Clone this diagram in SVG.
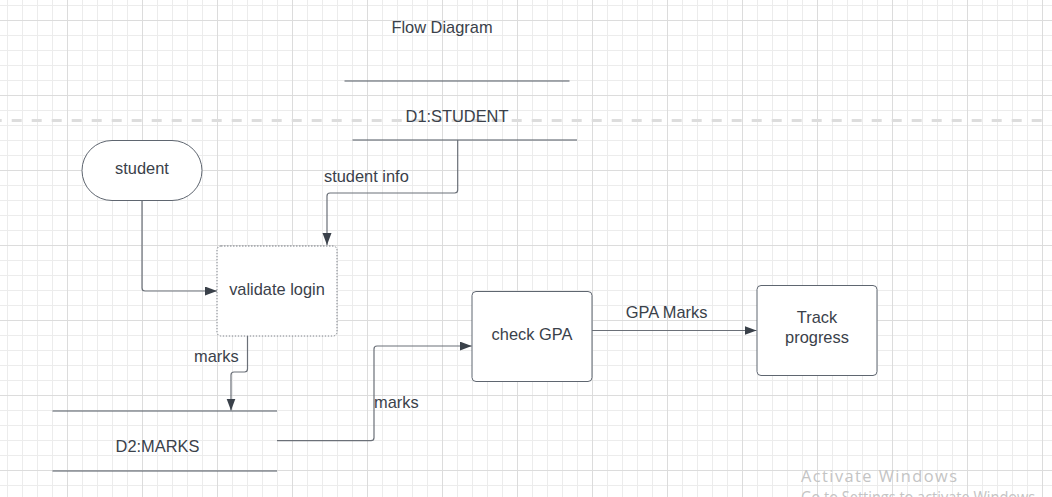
<svg xmlns="http://www.w3.org/2000/svg" width="1052" height="497" viewBox="0 0 1052 497">
<defs>
<pattern id="gMinor" patternUnits="userSpaceOnUse" x="7" y="5" width="15" height="15">
<path d="M0 0.5H15M0.5 0V15" stroke="#ececec" stroke-width="1" fill="none"/>
</pattern>
<pattern id="gMajor" patternUnits="userSpaceOnUse" x="67" y="20" width="75" height="75">
<path d="M0 0.5H75M0.5 0V75" stroke="#dcdcdc" stroke-width="1" fill="none"/>
</pattern>
<marker id="arr" markerUnits="userSpaceOnUse" markerWidth="13" markerHeight="10" refX="12" refY="4.5" orient="auto">
<path d="M0 0L12 4.5L0 9z" fill="#3a414a"/>
</marker>
<style>
text{font-family:"Liberation Sans",Arial,sans-serif;font-size:16.4px;fill:#3a414a}
.c{text-anchor:middle}
.node{fill:#ffffff;stroke:#5f6670;stroke-width:1}
.store{stroke:#4f5661;stroke-width:1.2;fill:none}
.conn{fill:none;stroke:#6b7078;stroke-width:1.2}
.wm{font-family:"Open Sans","Noto Sans",sans-serif;fill:#c4c4c4}
</style>
</defs>
<rect width="1052" height="497" fill="#ffffff"/>
<rect width="1052" height="497" fill="url(#gMinor)"/>
<rect width="1052" height="497" fill="url(#gMajor)"/>
<line x1="0" y1="120.5" x2="1042" y2="120.5" stroke="#dddddd" stroke-width="3" stroke-dasharray="10 10" stroke-dashoffset="8.3"/>

<text id="title" class="c" x="442" y="32.7">Flow Diagram</text>

<g id="d1">
<line class="store" x1="344.5" y1="81" x2="569.5" y2="81"/>
<line class="store" x1="352.5" y1="140" x2="577" y2="140"/>
<text class="c" x="457" y="122.3">D1:STUDENT</text>
</g>

<g id="student">
<rect class="node" x="82" y="140.5" width="120" height="60" rx="30" ry="30"/>
<text class="c" x="142" y="174.3">student</text>
</g>

<g id="validate">
<rect x="217" y="246" width="120" height="90" rx="4" fill="#ffffff" stroke="#7a7f86" stroke-width="1" stroke-dasharray="1.5 1.5"/>
<text class="c" x="277" y="295">validate login</text>
</g>

<g id="d2">
<line class="store" x1="52.5" y1="411" x2="277" y2="411"/>
<line class="store" x1="52.5" y1="471" x2="277" y2="471"/>
<text class="c" x="157.5" y="451.7">D2:MARKS</text>
</g>

<g id="checkgpa">
<rect class="node" x="472" y="291.5" width="120" height="90" rx="4"/>
<text class="c" x="532" y="340">check GPA</text>
</g>

<g id="track">
<rect class="node" x="757" y="285.5" width="120" height="90" rx="4"/>
<text class="c" x="817" y="323.3">Track</text>
<text class="c" x="817" y="342.7">progress</text>
</g>

<g id="connectors">
<path class="conn" d="M457.7 140V190q0 3-3 3H330q-3 0-3 3V245" marker-end="url(#arr)"/>
<path class="conn" d="M142 200.5V288q0 3 3 3H217" marker-end="url(#arr)"/>
<path class="conn" d="M247.5 336V369q0 3-3 3H234q-3 0-3 3V410.5" marker-end="url(#arr)"/>
<path class="conn" d="M277 440.7H371q3 0 3-3V349q0-3 3-3H471.7" marker-end="url(#arr)"/>
<path class="conn" d="M592 330.5H756.5" marker-end="url(#arr)"/>
<text x="324" y="182">student info</text>
<text x="194" y="362">marks</text>
<text x="374" y="407.7">marks</text>
<text x="625.7" y="317.7">GPA Marks</text>
</g>

<text class="wm" x="801" y="481.7" font-size="20" textLength="156" lengthAdjust="spacing">Activate Windows</text>
<text class="wm" x="801" y="503" font-size="14" textLength="238" lengthAdjust="spacingAndGlyphs">Go to Settings to activate Windows.</text>
</svg>
